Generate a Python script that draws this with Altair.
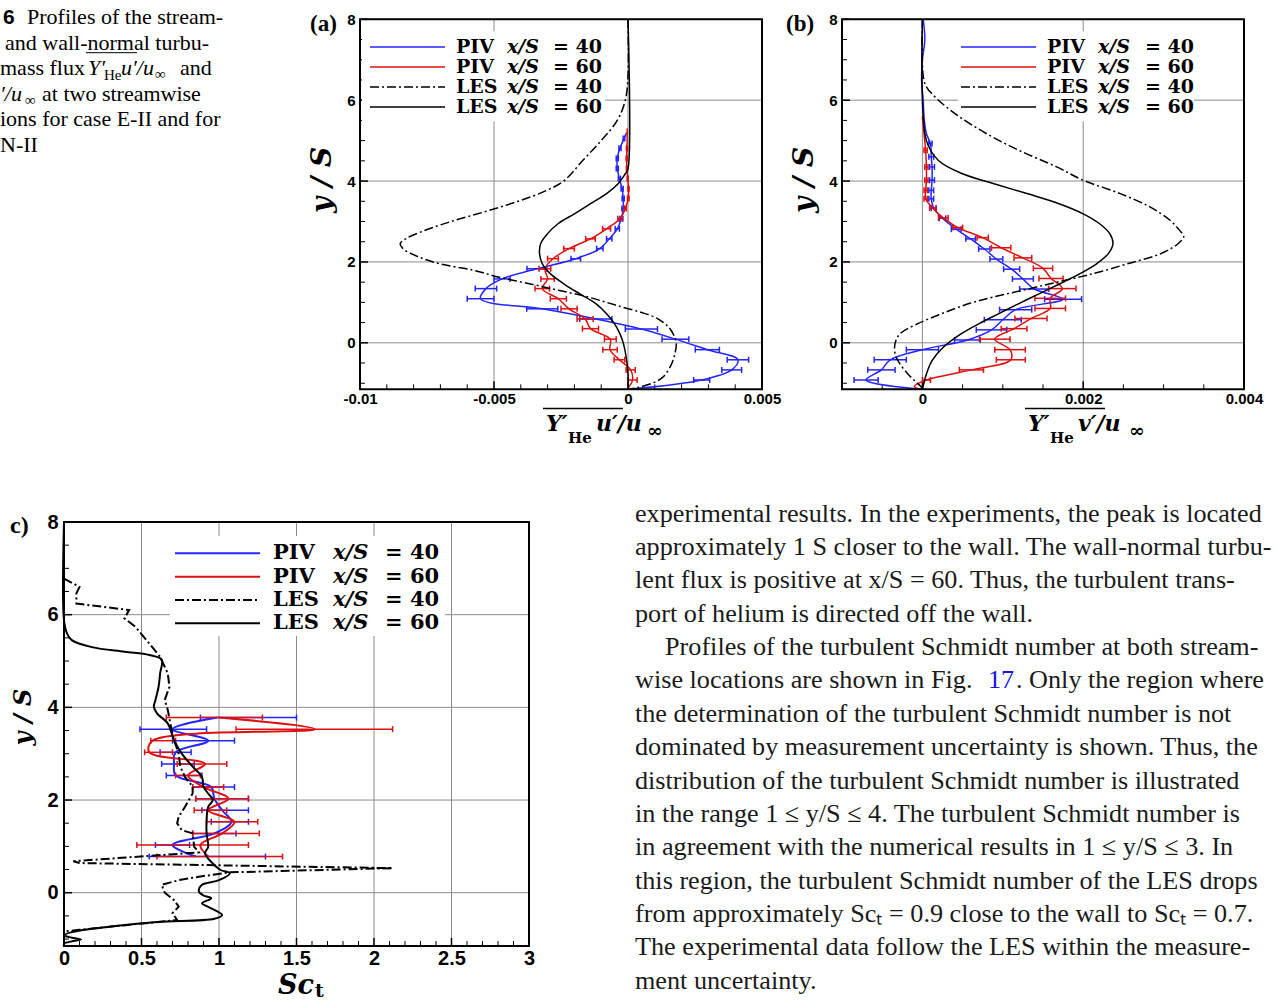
import altair as alt
import pandas as pd

# ---------------- data : panel (a)  streamwise flux ----------------
A_LES40_Y = [8, 6.6, 6.0, 5.5, 5.0, 4.5, 4.0, 3.75, 3.5, 3.25, 3.0, 2.75, 2.57, 2.45, 2.33, 2.12, 1.95, 1.8,
             1.62, 1.45, 1.3, 1.15, 1.0, 0.88, 0.75, 0.6, 0.4, 0.2, 0.0, -0.27, -0.56, -0.85, -1.0, -1.1, -1.15]
A_LES40_X = [0, 0, -0.0001, -0.0004, -0.001, -0.0017, -0.0024, -0.0031, -0.0041, -0.0053, -0.0066, -0.0077,
             -0.0083, -0.0085, -0.0084, -0.0078, -0.007, -0.0058, -0.0048, -0.0036, -0.0026, -0.0016, -0.0008,
             -0.0002, 0.0005, 0.0011, 0.0015, 0.0017, 0.0018, 0.00175, 0.0016, 0.0013, 0.0009, 0.0004, 0.0]
A_LES60_Y = [8, 4.3, 4.18, 3.94, 3.69, 3.44, 3.19, 2.95, 2.70, 2.45, 2.2, 1.96, 1.71, 1.46, 1.21, 0.97, 0.72,
             0.47, 0.22, -0.02, -0.35, -0.77, -1.15]
A_LES60_X = [0, 0, -0.0001, -0.00036, -0.0008, -0.0014, -0.002, -0.0026, -0.003, -0.00326, -0.0033, -0.0032,
             -0.0029, -0.0024, -0.0018, -0.0012, -0.0008, -0.0005, -0.0003, -0.00017, -0.00007, 0, 0]
A_PIV40_Y = [5.2, 5.05, 4.81, 4.56, 4.31, 4.06, 3.81, 3.57, 3.32, 3.07, 2.82, 2.57, 2.33, 2.08, 1.83, 1.58,
             1.34, 1.09, 0.84, 0.59, 0.34, 0.09, -0.17, -0.42, -0.67, -0.92, -1.15]
A_PIV40_X = [-0.00005, -0.00015, -0.0003, -0.0004, -0.0004, -0.00032, -0.00022, -0.00018, -0.00018, -0.00025,
             -0.0004, -0.0007, -0.00105, -0.00195, -0.0034, -0.0047, -0.0053, -0.0055, -0.0032, -0.0012,
             0.0005, 0.00177, 0.00296, 0.0041, 0.00387, 0.00275, 0.0]
A_PIV40_E = [0, 0.00003, 0.00004, 0.00004, 0.00004, 0.00004, 0.00004, 0.00004, 0.00005, 0.00006, 0.00008,
             0.0001, 0.00012, 0.00018, 0.00037, 0.0003, 0.0004, 0.0005, 0.00058, 0.0006, 0.0006, 0.0005,
             0.00045, 0.0004, 0.00037, 0.0003, 0]
A_PIV60_Y = [5.3, 5.05, 4.81, 4.56, 4.31, 4.06, 3.81, 3.57, 3.32, 3.07, 2.82, 2.57, 2.33, 2.08, 1.83, 1.58,
             1.34, 1.09, 0.84, 0.59, 0.35, 0.09, -0.17, -0.42, -0.67, -0.92, -1.12]
A_PIV60_X = [-0.00003, -0.00003, -0.00004, -0.00005, -0.00004, -0.00001, 0.00002, 0.00001, -0.0001, -0.0003,
             -0.0008, -0.0014, -0.0022, -0.0028, -0.0031, -0.003, -0.0032, -0.0026, -0.0022, -0.0016, -0.0014,
             -0.00066, -0.00067, -0.00032, 0.0001, 0.00017, 0.0]
A_PIV60_E = [0, 0, 0.00002, 0.00002, 0.00002, 0.00002, 0.00002, 0.00003, 0.00004, 0.00008, 0.00015, 0.00018,
             0.0002, 0.0002, 0.00022, 0.00025, 0.00027, 0.0003, 0.0003, 0.0003, 0.0003, 0.00022, 0.00027,
             0.0002, 0.00017, 0.00017, 0]

# ---------------- data : panel (b)  wall-normal flux ----------------
B_LES40_Y = [8, 6.6, 6.33, 6.0, 5.59, 5.17, 4.76, 4.35, 4.02, 3.69, 3.36, 3.03, 2.78, 2.62, 2.45, 2.2, 1.96,
             1.75, 1.63, 1.46, 1.3, 1.13, 0.97, 0.72, 0.47, 0.22, -0.02, -0.27, -0.52, -0.77, -0.93, -1.1, -1.15]
B_LES40_X = [0, 0.00001, 0.00005, 0.0002, 0.00046, 0.0008, 0.0012, 0.00167, 0.002, 0.00246, 0.00283, 0.00308,
             0.0032, 0.00325, 0.00318, 0.00296, 0.00256, 0.0022, 0.00196, 0.00159, 0.00125, 0.00088, 0.00058,
             0.00024, -0.00006, -0.00028, -0.00034, -0.00034, -0.00028, -0.00018, -0.0001, -0.00001, 0]
B_LES60_Y = [8, 5.0, 4.51, 4.18, 3.94, 3.69, 3.44, 3.19, 2.95, 2.70, 2.45, 2.2, 1.96, 1.71, 1.46, 1.21, 0.97,
             0.72, 0.47, 0.22, -0.11, -0.44, -0.77, -1.15]
B_LES60_X = [0, 0.00005, 0.0002, 0.0005, 0.00088, 0.0013, 0.0017, 0.002, 0.0022, 0.00233, 0.00237, 0.00231,
             0.00217, 0.00196, 0.00171, 0.00145, 0.0012, 0.00095, 0.0007, 0.00048, 0.00026, 0.00012, 0.00005, 0]
B_PIV40_Y = [8, 7.5, 7.0, 6.5, 6.0, 5.59, 5.17, 4.93, 4.6, 4.35, 4.02, 3.77, 3.56, 3.33, 3.08, 2.81, 2.57,
             2.32, 2.07, 1.82, 1.58, 1.33, 1.08, 0.82, 0.57, 0.32, 0.07, -0.17, -0.42, -0.67, -0.92, -1.15]
B_PIV40_X = [0.00001, 0.00003, 0.0, -0.00001, 0.00001, 0.00002, 0.00005, 0.0001, 0.00011, 0.00012, 0.00012,
             0.00011, 0.00011, 0.00014, 0.00025, 0.00042, 0.0006, 0.00077, 0.00092, 0.00111, 0.00125, 0.00139,
             0.00175, 0.00116, 0.001, 0.00086, 0.00056, 0.0, -0.0004, -0.00051, -0.0007, 0.0]
B_PIV40_E = [0, 0, 0, 0, 0, 0, 0, 0.00002, 0.00003, 0.00003, 0.00003, 0.00003, 0.00003, 0.00003, 0.00004,
             0.00006, 0.00006, 0.00007, 0.00008, 0.0001, 0.00013, 0.00018, 0.00023, 0.0002, 0.00023, 0.00019,
             0.00016, 0.0002, 0.0002, 0.00017, 0.00015, 0]
B_PIV60_Y = [5.6, 5.17, 4.76, 4.35, 4.02, 3.77, 3.56, 3.33, 3.09, 2.85, 2.6, 2.35, 2.1, 1.84, 1.59, 1.34, 1.1,
             0.85, 0.6, 0.35, 0.09, -0.17, -0.42, -0.67, -0.92, -1.08, -1.15]
B_PIV60_X = [0.0, 0.00002, 0.00004, 0.00005, 0.00005, 0.00004, 0.00004, 0.00013, 0.00026, 0.00044, 0.00075,
             0.00098, 0.00125, 0.0015, 0.0016, 0.00174, 0.00159, 0.00159, 0.00135, 0.00114, 0.0009, 0.00109,
             0.0011, 0.00061, 0.00005, -0.0001, 0.0]
B_PIV60_E = [0, 0, 0.00002, 0.00002, 0.00002, 0.00002, 0.00002, 0.00004, 0.00006, 0.00006, 0.00007, 0.00012,
             0.00011, 0.00012, 0.00015, 0.00017, 0.00019, 0.00019, 0.0002, 0.00016, 0.00019, 0.00019, 0.00018,
             0.00015, 0.00005, 0, 0]

# ---------------- data : panel (c)  turbulent Schmidt number ----------------
C_LES60_X = [0, 0, 0.02, 0.05, 0.18, 0.39, 0.55, 0.63, 0.62, 0.61, 0.59, 0.58, 0.6, 0.67, 0.71, 0.76, 0.83,
             0.89, 0.9, 0.93, 0.96, 0.93, 0.92, 0.92, 0.93, 0.91, 0.96, 1.01, 1.07, 1.0, 0.89, 0.87, 0.9, 0.95,
             0.89, 0.94, 1.02, 0.97, 0.6, 0.3, 0.05, 0.0, 0.05, 0.11, 0.05, 0.0, 0]
C_LES60_Y = [8, 5.88, 5.59, 5.45, 5.3, 5.2, 5.13, 5.03, 4.73, 4.44, 4.16, 4.01, 3.87, 3.65, 3.29, 3.0, 2.72,
             2.5, 2.29, 2.14, 2.0, 1.85, 1.57, 1.28, 0.99, 0.85, 0.63, 0.49, 0.42, 0.27, 0.17, 0.03, -0.06, -0.12,
             -0.23, -0.32, -0.48, -0.56, -0.63, -0.73, -0.85, -0.92, -0.97, -1.01, -1.05, -1.1, -1.15]
C_LES40_X = [0, 0.1, 0.08, 0.08, 0.42, 0.39, 0.46, 0.55, 0.62, 0.67, 0.68, 0.65, 0.67, 0.69, 0.71, 0.74, 0.75,
             0.78, 0.83, 0.83, 0.78, 0.74, 0.73, 0.76, 0.83, 0.84, 0.87, 0.06, 0.1, 2.12, 1.07, 0.88, 0.74, 0.63,
             0.65, 0.71, 0.74, 0.7, 0.73, 0.4, 0.1, 0]
C_LES40_Y = [6.78, 6.6, 6.46, 6.24, 6.1, 5.92, 5.74, 5.38, 5.09, 4.73, 4.44, 4.16, 3.94, 3.58, 3.29, 3.0, 2.72,
             2.5, 2.29, 2.14, 1.85, 1.64, 1.5, 1.35, 1.28, 0.99, 0.87, 0.68, 0.64, 0.53, 0.44, 0.35, 0.27, 0.17,
             0.0, -0.16, -0.3, -0.44, -0.59, -0.7, -0.8, -0.84]
C_PIV_Y = [3.78, 3.53, 3.28, 3.03, 2.78, 2.53, 2.28, 2.03, 1.78, 1.53, 1.28, 1.03, 0.78]
C_PIV40_X = [0.99, 0.70, 0.93, 0.72, 0.71, 0.72, 0.95, 0.97, 1.02, 1.08, 0.97, 0.70, 0.85]
C_PIV40_LO = [0.88, 0.49, 0.70, 0.62, 0.63, 0.66, 0.83, 0.85, 0.89, 0.95, 0.83, 0.59, 0.55]
C_PIV40_HI = [1.50, 0.92, 1.10, 0.82, 0.84, 0.89, 1.10, 1.19, 1.19, 1.19, 1.11, 0.81, 1.30]
C_PIV60_X = [1.00, 1.62, 0.57, 0.55, 0.91, 0.80, 0.90, 1.06, 0.93, 1.10, 1.02, 0.88, 0.93]
C_PIV60_LO = [0.66, 1.11, 0.56, 0.52, 0.73, 0.72, 0.83, 0.85, 0.84, 0.92, 0.83, 0.47, 0.60]
C_PIV60_HI = [1.28, 2.12, 0.72, 0.70, 1.05, 0.88, 1.03, 1.19, 1.05, 1.25, 1.26, 1.19, 1.41]

# ---------------- axes ticks ----------------
Y_MAJOR = [0, 2, 4, 6, 8]
Y_MINOR = [-1, -0.5, 0.5, 1, 1.5, 2.5, 3, 3.5, 4.5, 5, 5.5, 6.5, 7, 7.5]
A_XMAJOR = [-0.01, -0.005, 0, 0.005]
A_XMINOR = [-0.009, -0.008, -0.007, -0.006, -0.004, -0.003, -0.002, -0.001, 0.001, 0.002, 0.003, 0.004]
B_XMAJOR = [0, 0.002, 0.004]
B_XMINOR = [-0.0005, 0.0005, 0.001, 0.0015, 0.0025, 0.003, 0.0035]
C_XMAJOR = [0, 0.5, 1, 1.5, 2, 2.5, 3]
C_XMINOR = [0.1, 0.2, 0.3, 0.4, 0.6, 0.7, 0.8, 0.9, 1.1, 1.2, 1.3, 1.4, 1.6, 1.7, 1.8, 1.9, 2.1, 2.2, 2.3,
            2.4, 2.6, 2.7, 2.8, 2.9]

LEGEND_SERIES = [("PIV", "40"), ("PIV", "60"), ("LES", "40"), ("LES", "60")]

CAPTION = ["Profiles of the stream-", "and wall-normal turbu-", "mass flux", "at two streamwise",
           "ions for case E-II and for", "N-II"]
BODY = [
    "experimental results. In the experiments, the peak is located",
    "approximately 1 S closer to the wall. The wall-normal turbu-",
    "lent flux is positive at x/S = 60. Thus, the turbulent trans-",
    "port of helium is directed off the wall.",
    "Profiles of the turbulent Schmidt number at both stream-",
    "wise locations are shown in Fig.",
    "the determination of the turbulent Schmidt number is not",
    "dominated by measurement uncertainty is shown. Thus, the",
    "distribution of the turbulent Schmidt number is illustrated",
    "in the range 1 \u2264 y/S \u2264 4. The turbulent Schmidt number is",
    "in agreement with the numerical results in 1 \u2264 y/S \u2264 3. In",
    "this region, the turbulent Schmidt number of the LES drops",
    "from approximately Sc\u209c = 0.9 close to the wall to Sc\u209c = 0.7.",
    "The experimental data follow the LES within the measure-",
    "ment uncertainty.",
]

# ---------------- styles / layout ----------------
TOTAL_W, TOTAL_H = 1279, 1004
BLUE = "#2424ff"
RED = "#dc1010"
GRIDC = "#8c8c8c"
DASHDOT = [9, 3, 2, 3]
STYLES = [(BLUE, None), (RED, None), ("black", DASHDOT), ("black", None)]
ONE = pd.DataFrame({"k": [0]})
LABEL_EXPR = "datum.value < 0 ? '-' + format(-datum.value, '~g') : format(datum.value, '~g')"
Y_DOMAIN = [-1.15, 8]
SERIF = "Liberation Serif"


def txt(s, x, y, size, font="DejaVu Serif", weight="normal", style="normal", color="black",
        align="left", baseline="alphabetic", angle=0):
    return alt.Chart(ONE).mark_text(text=s, font=font, fontSize=size, fontWeight=weight, fontStyle=style,
                                    color=color, align=align, baseline=baseline, angle=angle).encode(
        x=alt.value(x), y=alt.value(y))


def hrule(x0, x1, y, color="black", width=1.5, dash=None):
    kw = dict(color=color, strokeWidth=width)
    if dash:
        kw["strokeDash"] = dash
    return alt.Chart(ONE).mark_rule(**kw).encode(x=alt.value(x0), x2=alt.value(x1), y=alt.value(y))


class Panel:
    def __init__(self, ox, oy, W, H, xdom, xmajor, labsize, padx, pady):
        self.ox, self.oy, self.W, self.H = ox, oy, W, H
        self.scx = alt.Scale(domain=xdom, range=[ox, ox + W], nice=False, zero=False)
        self.scy = alt.Scale(domain=Y_DOMAIN, range=[oy + H, oy], nice=False, zero=False)
        common = dict(grid=False, ticks=False, domain=False, labelExpr=LABEL_EXPR, labelFont="Liberation Sans",
                      labelFontWeight="bold", labelFontSize=labsize, labelColor="black", labelFlush=False,
                      labelOverlap=False, labelBound=False, title=None)
        self.axx = alt.Axis(orient="bottom", offset=(oy + H) - TOTAL_H, values=xmajor, labelPadding=padx,
                            **common)
        self.axy = alt.Axis(orient="left", offset=-ox, values=Y_MAJOR, labelPadding=pady, **common)

    def X(self, f):
        return alt.X(f, type="quantitative", scale=self.scx, axis=self.axx)

    def Y(self, f):
        return alt.Y(f, type="quantitative", scale=self.scy, axis=self.axy)

    def grid_and_ticks(self, xmajor, xminor):
        ox, oy, W, H = self.ox, self.oy, self.W, self.H
        gx = alt.Chart(pd.DataFrame({"t": xmajor})).mark_rule(color=GRIDC, strokeWidth=1).encode(
            x=self.X("t"), y=alt.value(oy), y2=alt.value(oy + H))
        gy = alt.Chart(pd.DataFrame({"t": Y_MAJOR})).mark_rule(color=GRIDC, strokeWidth=1).encode(
            y=self.Y("t"), x=alt.value(ox), x2=alt.value(ox + W))
        bmaj = alt.Chart(pd.DataFrame({"t": xmajor})).mark_rule(color="black", strokeWidth=1.5).encode(
            x=self.X("t"), y=alt.value(oy + H), y2=alt.value(oy + H - 8))
        bmin = alt.Chart(pd.DataFrame({"t": xminor})).mark_rule(color="black", strokeWidth=1).encode(
            x=self.X("t"), y=alt.value(oy + H), y2=alt.value(oy + H - 5))
        lmaj = alt.Chart(pd.DataFrame({"t": Y_MAJOR})).mark_rule(color="black", strokeWidth=1.5).encode(
            y=self.Y("t"), x=alt.value(ox), x2=alt.value(ox + 8))
        lmin = alt.Chart(pd.DataFrame({"t": Y_MINOR})).mark_rule(color="black", strokeWidth=1).encode(
            y=self.Y("t"), x=alt.value(ox), x2=alt.value(ox + 5))
        return [gx, gy, bmaj, bmin, lmaj, lmin]

    def curve(self, xs, ys, color, width, dash=None, interp="catmull-rom"):
        df = pd.DataFrame({"x": xs, "y": ys, "i": list(range(len(xs)))})
        kw = dict(color=color, strokeWidth=width, interpolate=interp)
        if dash:
            kw["strokeDash"] = dash
        return alt.Chart(df).mark_line(**kw).encode(x=self.X("x"), y=self.Y("y"), order=alt.Order("i:Q"))

    def errbars(self, ys, lo, hi, color, width, cap):
        df = pd.DataFrame({"y": ys, "lo": lo, "hi": hi})
        base = alt.Chart(df)
        r = base.mark_rule(color=color, strokeWidth=width).encode(x=self.X("lo"), x2="hi:Q", y=self.Y("y"))
        t1 = base.mark_tick(color=color, orient="vertical", size=cap, thickness=width, opacity=1).encode(
            x=self.X("lo"), y=self.Y("y"))
        t2 = base.mark_tick(color=color, orient="vertical", size=cap, thickness=width, opacity=1).encode(
            x=self.X("hi"), y=self.Y("y"))
        return [r, t1, t2]

    def sym_bars(self, xs, ys, es, color, width, cap):
        keep = [k for k in range(len(xs)) if es[k] > 0]
        return self.errbars([ys[k] for k in keep], [xs[k] - es[k] for k in keep],
                            [xs[k] + es[k] for k in keep], color, width, cap)

    def frame(self):
        return alt.Chart(ONE).mark_rect(fillOpacity=0, stroke="black", strokeWidth=2).encode(
            x=alt.value(self.ox), x2=alt.value(self.ox + self.W), y=alt.value(self.oy),
            y2=alt.value(self.oy + self.H))


def legend_layers(rect, rows, line_x, lab_x, xs_x, eq_x, size, lw):
    bg = alt.Chart(ONE).mark_rect(color="white").encode(
        x=alt.value(rect[0]), x2=alt.value(rect[1]), y=alt.value(rect[2]), y2=alt.value(rect[3]))
    items = []
    for (name, num), (color, dash), ry in zip(LEGEND_SERIES, STYLES, rows):
        items.append(hrule(line_x[0], line_x[1], ry, color, lw, dash))
        items.append(txt(name, lab_x, ry, size, weight="bold", baseline="middle"))
        items.append(txt("x/S", xs_x, ry, size, weight="bold", style="italic", baseline="middle"))
        items.append(txt("= " + num, eq_x, ry, size, weight="bold", baseline="middle"))
    return bg, items


def flux_title(x0, sym):
    return [hrule(x0 + 183, x0 + 263, 408.5, "black", 1.5),
            txt("Y\u2032", x0 + 186, 431, 22, weight="bold", style="italic"),
            txt("He", x0 + 208, 443, 15, weight="bold"),
            txt(sym + "\u2032/u", x0 + 236, 431, 22, weight="bold", style="italic"),
            txt("\u221e", x0 + 287, 437, 19, weight="bold")]


def ytitle(x, y, size):
    return txt("y / S", x, y, size, weight="bold", style="italic", align="center", baseline="middle",
               angle=270)


# ---------------- panel (a) ----------------
pa = Panel(360, 19.3, 402, 370, [-0.01, 0.005], A_XMAJOR, 15, 2, 5)
bg_a, leg_a = legend_layers((362, 605, 31.3, 121.3), [47, 67, 87, 107], (370, 445), 456, 507, 553, 19, 1.5)
panel_a = alt.layer(
    *pa.grid_and_ticks(A_XMAJOR, A_XMINOR),
    bg_a,
    pa.curve(A_PIV40_X, A_PIV40_Y, BLUE, 1.5),
    *pa.sym_bars(A_PIV40_X, A_PIV40_Y, A_PIV40_E, BLUE, 1.5, 6),
    pa.curve(A_PIV60_X, A_PIV60_Y, RED, 1.5),
    *pa.sym_bars(A_PIV60_X, A_PIV60_Y, A_PIV60_E, RED, 1.5, 6),
    pa.curve(A_LES40_X, A_LES40_Y, "black", 1.5, DASHDOT),
    pa.curve(A_LES60_X, A_LES60_Y, "black", 1.5),
    *leg_a,
    *flux_title(360, "u"),
    ytitle(323, 180, 28),
    txt("(a)", 310, 24.3, 23, font=SERIF, weight="bold", baseline="middle"),
    pa.frame(),
)

# ---------------- panel (b) ----------------
pb = Panel(842, 19.3, 402, 370, [-0.001, 0.004], B_XMAJOR, 15, 2, 5)
bg_b, leg_b = legend_layers((958, 1194, 31.3, 121.3), [47, 67, 87, 107], (961, 1036), 1047, 1098, 1145,
                            19, 1.5)
panel_b = alt.layer(
    *pb.grid_and_ticks(B_XMAJOR, B_XMINOR),
    bg_b,
    pb.curve(B_PIV40_X, B_PIV40_Y, BLUE, 1.5),
    *pb.sym_bars(B_PIV40_X, B_PIV40_Y, B_PIV40_E, BLUE, 1.5, 6),
    pb.curve(B_PIV60_X, B_PIV60_Y, RED, 1.5),
    *pb.sym_bars(B_PIV60_X, B_PIV60_Y, B_PIV60_E, RED, 1.5, 6),
    pb.curve(B_LES40_X, B_LES40_Y, "black", 1.5, DASHDOT),
    pb.curve(B_LES60_X, B_LES60_Y, "black", 1.5),
    *leg_b,
    *flux_title(842, "v"),
    ytitle(805, 180, 28),
    txt("(b)", 786, 24.3, 23, font=SERIF, weight="bold", baseline="middle"),
    pb.frame(),
)

# ---------------- panel (c) ----------------
pc = Panel(64, 522, 465, 424, [0, 3], C_XMAJOR, 20, 2, 6)
bg_c, leg_c = legend_layers((170, 445, 536, 636), [553.3, 576.7, 600, 623.3], (175, 260), 273, 333, 385, 21, 2)
panel_c = alt.layer(
    *pc.grid_and_ticks(C_XMAJOR, C_XMINOR),
    bg_c,
    pc.curve(C_PIV40_X, C_PIV_Y, BLUE, 2),
    *pc.errbars(C_PIV_Y, C_PIV40_LO, C_PIV40_HI, BLUE, 1.5, 6),
    pc.curve(C_PIV60_X, C_PIV_Y, RED, 2),
    *pc.errbars(C_PIV_Y, C_PIV60_LO, C_PIV60_HI, RED, 1.5, 6),
    pc.curve(C_LES40_X, C_LES40_Y, "black", 2, DASHDOT, "linear"),
    pc.curve(C_LES60_X, C_LES60_Y, "black", 2),
    *leg_c,
    txt("Sc", 278, 994, 27, weight="bold", style="italic"),
    txt("t", 315, 997, 19, weight="bold"),
    ytitle(24, 717, 24),
    txt("c)", 10, 526, 24, font=SERIF, weight="bold", baseline="middle"),
    pc.frame(),
)

# ---------------- caption (top left, cropped) ----------------
CY0, CDY, CF = 24.0, 25.5, 22
caption = alt.layer(
    txt("6", 3, CY0, 21, font="Liberation Sans", weight="bold"),
    txt(CAPTION[0], 27, CY0, CF, font=SERIF),
    txt(CAPTION[1], 5, CY0 + CDY, CF, font=SERIF),
    hrule(86, 137, CY0 + CDY + 3.2, "black", 1),
    txt(CAPTION[2], 0, CY0 + 2 * CDY, CF, font=SERIF),
    txt("Y\u2032", 88, CY0 + 2 * CDY, CF, font=SERIF, style="italic"),
    txt("He", 104, CY0 + 2 * CDY + 5, 15, font=SERIF),
    txt("u\u2032/u", 121, CY0 + 2 * CDY, CF, font=SERIF, style="italic"),
    txt("\u221e", 155, CY0 + 2 * CDY + 4, 15, font=SERIF),
    txt("and", 180, CY0 + 2 * CDY, CF, font=SERIF),
    txt("\u2032/u", 0, CY0 + 3 * CDY, CF, font=SERIF, style="italic"),
    txt("\u221e", 25, CY0 + 3 * CDY + 4, 15, font=SERIF),
    txt(CAPTION[3], 42, CY0 + 3 * CDY, CF, font=SERIF),
    txt(CAPTION[4], 0, CY0 + 4 * CDY, CF, font=SERIF),
    txt(CAPTION[5], 0, CY0 + 5 * CDY, CF, font=SERIF),
)

# ---------------- body text (bottom right) ----------------
BY0, BDY, BF = 521.7, 33.35, 26.2
body_layers = []
for k, line in enumerate(BODY):
    x0 = 665 if k == 4 else 635
    body_layers.append(txt(line, x0, BY0 + k * BDY, BF, font=SERIF, color="#1a1a1a"))
body_layers.append(txt("17", 988, BY0 + 5 * BDY, BF, font=SERIF, color="#1515e6"))
body_layers.append(txt(". Only the region where", 1016, BY0 + 5 * BDY, BF, font=SERIF, color="#1a1a1a"))
body = alt.layer(*body_layers)

chart = alt.layer(caption, panel_a, panel_b, panel_c, body).resolve_scale(
    x="independent", y="independent").resolve_axis(x="independent", y="independent").properties(
    width=TOTAL_W, height=TOTAL_H, padding=0, autosize=alt.AutoSizeParams(type="none"),
    background="white").configure_view(stroke="transparent")

chart.save("out.html", embed_options={"renderer": "svg", "actions": False})
